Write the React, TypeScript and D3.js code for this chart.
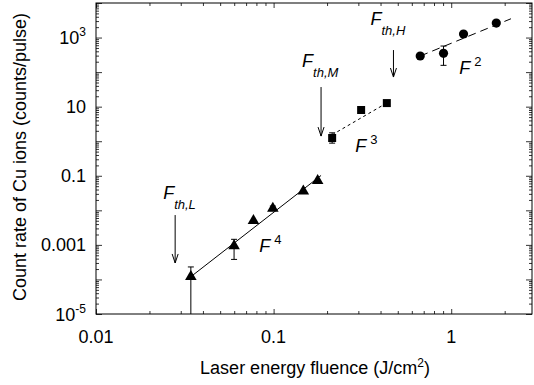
import { useEffect, useRef } from "react"
import * as d3 from "d3"

// F^4 regime (triangles)
const triFluence = [0.0342, 0.0599, 0.077, 0.099, 0.147, 0.177]
const triRate = [1.2e-4, 9.3e-4, 5.0e-3, 0.0114, 0.036, 0.072]
const triErrLow = [1e-6, 3.8e-4, null, 0.0098, null, null]
const triErrHigh = [2.3e-4, 1.45e-3, null, 0.0133, null, null]

// F^3 regime (squares)
const sqFluence = [0.2136, 0.311, 0.434]
const sqRate = [1.24, 8.0, 12.7]
const sqErrLow = [0.88, null, null]
const sqErrHigh = [1.75, null, null]

// F^2 regime (circles)
const cirFluence = [0.669, 0.905, 1.173, 1.794]
const cirRate = [292, 349, 1265, 2630]
const cirErrLow = [null, 157, null, null]
const cirErrHigh = [null, 568, null, null]

// fitted power laws
const fit4Fluence = [0.0342, 0.185]
const fit4Rate = [1.2e-4, 0.102]
const fit3Fluence = [0.2136, 0.434]
const fit3Rate = [1.54, 12.8]
const fit2Fluence = [0.669, 2.17]
const fit2Rate = [292, 3500]

// thresholds
const thNames = ["th,L", "th,M", "th,H"]
const thFluence = [0.0279, 0.185, 0.473]
const thArrowFrom = [7.3e-3, 37, 435]
const thArrowTo = [3e-4, 1.41, 72]

// power labels
const powExp = ["4", "3", "2"]
const powFluence = [0.0829, 0.288, 1.109]
const powRate = [6.2e-4, 0.487, 88]

// tick labels
const xTickValues = [0.01, 0.1, 1]
const xTickLabels = ["0.01", "0.1", "1"]
const yTickValues = [1e-5, 1e-3, 0.1, 10, 1e3]
const yTickBase = ["10", "0.001", "0.1", "10", "10"]
const yTickExp = ["-5", "", "", "", "3"]

export default function App() {
  const ref = useRef<SVGSVGElement | null>(null)

  useEffect(() => {
    const svg = d3.select(ref.current)
    svg.selectAll("*").remove()

    const width = 534
    const height = 385
    const plot = { left: 96, right: 532, top: 3, bottom: 314 }
    const font = "'Liberation Sans', Arial, Helvetica, sans-serif"

    const x = d3.scaleLog().domain([0.01, 2.85]).range([plot.left, plot.right])
    const y = d3.scaleLog().domain([1e-5, 1e4]).range([plot.bottom, plot.top])

    svg.attr("width", width).attr("height", height).style("font-family", font)

    svg.append("rect").attr("width", width).attr("height", height).attr("fill", "#fff")

    svg.append("defs").append("clipPath").attr("id", "plot-clip")
      .append("rect")
      .attr("x", plot.left).attr("y", plot.top)
      .attr("width", plot.right - plot.left).attr("height", plot.bottom - plot.top)

    const isDecade = (v: number) => Math.abs(Math.log10(v) - Math.round(Math.log10(v))) < 1e-9
    const xMajor = x.ticks().filter(isDecade)
    const xMinor = x.ticks().filter(t => !isDecade(t))
    const yMajor = y.ticks().filter(isDecade)
    const yMinor = y.ticks().filter(t => !isDecade(t))

    // ticks on all four sides, pointing inward
    const noLabel = () => ""
    const axes: [any, string, number[], number][] = [
      [d3.axisBottom(x), `translate(0,${plot.bottom})`, xMajor, -5],
      [d3.axisBottom(x), `translate(0,${plot.bottom})`, xMinor, -3],
      [d3.axisTop(x), `translate(0,${plot.top})`, xMajor, -5],
      [d3.axisTop(x), `translate(0,${plot.top})`, xMinor, -3],
      [d3.axisLeft(y), `translate(${plot.left},0)`, yMajor, -6],
      [d3.axisLeft(y), `translate(${plot.left},0)`, yMinor, -3],
      [d3.axisRight(y), `translate(${plot.right},0)`, yMajor, -6],
      [d3.axisRight(y), `translate(${plot.right},0)`, yMinor, -3],
    ]
    axes.forEach(([axis, tr, vals, size]) => {
      const g = svg.append("g")
        .attr("transform", tr)
        .call(axis.tickValues(vals).tickSize(size).tickFormat(noLabel))
      g.select(".domain").remove()
      g.selectAll("line").attr("stroke", "#000").attr("stroke-width", 0.8)
    })

    svg.append("rect")
      .attr("x", plot.left).attr("y", plot.top)
      .attr("width", plot.right - plot.left).attr("height", plot.bottom - plot.top)
      .attr("fill", "none").attr("stroke", "#000").attr("stroke-width", 1)

    // tick labels
    xTickValues.forEach((v, i) => {
      svg.append("text")
        .attr("x", x(v)).attr("y", plot.bottom + 29)
        .attr("text-anchor", "middle").attr("font-size", 18).attr("fill", "#000")
        .text(xTickLabels[i])
    })
    yTickValues.forEach((v, i) => {
      const t = svg.append("text")
        .attr("x", plot.left - 10).attr("y", y(v) + 6.5)
        .attr("text-anchor", "end").attr("font-size", 18).attr("fill", "#000")
      t.append("tspan").text(yTickBase[i])
      if (yTickExp[i]) {
        t.append("tspan").attr("font-size", 12).attr("dy", -8).text(yTickExp[i])
      }
    })

    // axis titles
    const xt = svg.append("text")
      .attr("x", (plot.left + plot.right) / 2 + 1).attr("y", 374)
      .attr("text-anchor", "middle").attr("font-size", 18).attr("fill", "#000")
    xt.append("tspan").text("Laser energy fluence (J/cm")
    xt.append("tspan").attr("font-size", 12).attr("dy", -7).text("2")
    xt.append("tspan").attr("dy", 7).text(")")

    svg.append("text")
      .attr("transform", `translate(26,${157}) rotate(-90)`)
      .attr("text-anchor", "middle").attr("font-size", 18).attr("fill", "#000")
      .text("Count rate of Cu ions (counts/pulse)")

    const data = svg.append("g").attr("clip-path", "url(#plot-clip)")

    // fit lines
    const line = d3.line<[number, number]>().x(d => x(d[0])).y(d => y(d[1]))
    const fits: [number[], number[], string][] = [
      [fit4Fluence, fit4Rate, "none"],
      [fit3Fluence, fit3Rate, "3,3"],
      [fit2Fluence, fit2Rate, "8,5"],
    ]
    fits.forEach(([fx, fy, dash]) => {
      data.append("path")
        .attr("d", line(fx.map((v, i) => [v, fy[i]] as [number, number])))
        .attr("fill", "none").attr("stroke", "#000").attr("stroke-width", 1)
        .attr("stroke-dasharray", dash)
    })

    // error bars
    const errorBars = (fx: number[], lo: (number | null)[], hi: (number | null)[]) => {
      fx.forEach((v, i) => {
        const l = lo[i]
        const h = hi[i]
        if (l == null || h == null) return
        const cx = x(v)
        data.append("line")
          .attr("x1", cx).attr("x2", cx).attr("y1", y(l)).attr("y2", y(h))
          .attr("stroke", "#000").attr("stroke-width", 1)
        ;[l, h].forEach(e => {
          if (y(e) > plot.bottom) return
          data.append("line")
            .attr("x1", cx - 3).attr("x2", cx + 3).attr("y1", y(e)).attr("y2", y(e))
            .attr("stroke", "#000").attr("stroke-width", 1)
        })
      })
    }
    errorBars(triFluence, triErrLow, triErrHigh)
    errorBars(sqFluence, sqErrLow, sqErrHigh)
    errorBars(cirFluence, cirErrLow, cirErrHigh)

    // markers
    const markers: [number[], number[], d3.SymbolType, number][] = [
      [triFluence, triRate, d3.symbolTriangle, 58],
      [sqFluence, sqRate, d3.symbolSquare, 64],
      [cirFluence, cirRate, d3.symbolCircle, 66],
    ]
    markers.forEach(([fx, fy, type, size]) => {
      data.selectAll(null)
        .data(fx)
        .enter()
        .append("path")
        .attr("d", d3.symbol().type(type).size(size)())
        .attr("transform", (d, i) => `translate(${x(d)},${y(fy[i])})`)
        .attr("fill", "#000")
    })

    // threshold arrows and labels
    const labelOffsets = [[-12, -16], [-19, -20], [-23, -25]]
    thFluence.forEach((v, i) => {
      const ax = x(v)
      const y0 = y(thArrowFrom[i])
      const y1 = y(thArrowTo[i])
      svg.append("line")
        .attr("x1", ax).attr("x2", ax).attr("y1", y0).attr("y2", y1)
        .attr("stroke", "#000").attr("stroke-width", 1)
      svg.append("path")
        .attr("d", `M${ax - 3},${y1 - 9}L${ax},${y1}L${ax + 3},${y1 - 9}`)
        .attr("fill", "none").attr("stroke", "#000").attr("stroke-width", 1)
      const t = svg.append("text")
        .attr("x", ax + labelOffsets[i][0]).attr("y", y0 + labelOffsets[i][1])
        .attr("font-size", 18).attr("font-style", "italic").attr("fill", "#000")
      t.append("tspan").text("F")
      t.append("tspan").attr("font-size", 13).attr("dy", 10).text(thNames[i])
    })

    // power-law labels
    powFluence.forEach((v, i) => {
      const t = svg.append("text")
        .attr("x", x(v)).attr("y", y(powRate[i]))
        .attr("font-size", 18).attr("fill", "#000")
      t.append("tspan").attr("font-style", "italic").text("F")
      t.append("tspan").attr("font-size", 13).attr("dx", 4).attr("dy", -8).text(powExp[i])
    })

  }, [])

  return <svg ref={ref} style={{ position: "absolute", left: 0, top: 0, display: "block" }} />
}
